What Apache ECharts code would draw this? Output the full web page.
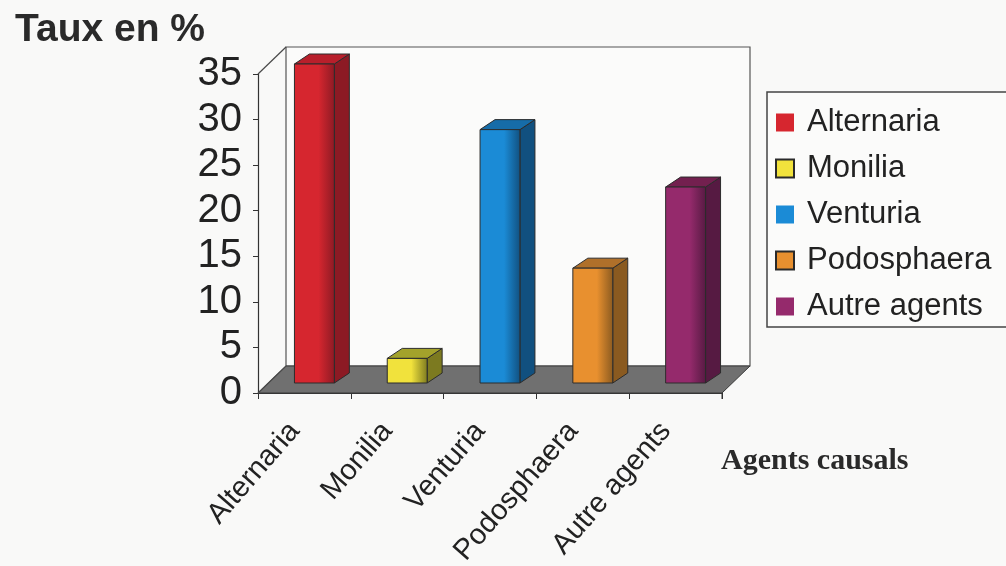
<!DOCTYPE html>
<html>
<head>
<meta charset="utf-8">
<script src="https://cdn.jsdelivr.net/npm/echarts@6/dist/echarts.min.js"></script>
<style>
  html, body { margin: 0; padding: 0; background: #f9f9f8; }
  #main { width: 1006px; height: 566px; }
</style>
</head>
<body>
<div id="main"></div>
<script>
// categories and values
var agents = ['Alternaria', 'Monilia', 'Venturia', 'Podosphaera', 'Autre agents']
var taux = [35, 2.7, 27.8, 12.6, 21.5]
var yTicks = { min: 0, max: 35, interval: 5 }

// colours: front, side, top
var faceColors = ['#d6262f', '#f1e23c', '#1b8bd6', '#e8902f', '#952a6c']
var sideColors = ['#8c1a24', '#7c7a20', '#11507f', '#8a5a20', '#561a42']
var topColors = ['#b81f2b', '#a3a22b', '#166ca8', '#b0702a', '#73204f']

// depth of the "3D" box and of the bars
var WALL_D = [28, -27]
var BAR_OFF = [10, -10]
var BAR_D = [15, -10]

var chart = echarts.init(document.getElementById('main'))

/**
 * walls + floor, drawn from the grid rect
 */
function renderWalls(params, api) {
  var cs = params.coordSys
  var x = cs.x, y = cs.y, w = cs.width, h = cs.height
  var dx = WALL_D[0], dy = WALL_D[1]
  var line = { stroke: '#4a4a4a', lineWidth: 1.2 }
  return {
    type: 'group',
    children: [
      {
        type: 'rect',
        shape: { x: x + dx, y: y + dy, width: w, height: h },
        style: { fill: '#fbfbfa', stroke: '#555', lineWidth: 1.2 }
      },
      {
        type: 'polygon',
        shape: { points: [[x, y + h], [x + w, y + h], [x + w + dx, y + h + dy], [x + dx, y + h + dy]] },
        style: { fill: '#707070', stroke: '#3a3a3a', lineWidth: 1 }
      },
      { type: 'line', shape: { x1: x, y1: y, x2: x + dx, y2: y + dy }, style: line },
      { type: 'line', shape: { x1: x, y1: y + h, x2: x + dx, y2: y + h + dy }, style: line },
      // closing tick at the right end of the category axis
      { type: 'line', shape: { x1: x + w, y1: y + h, x2: x + w, y2: y + h + 6 }, style: { stroke: '#333', lineWidth: 1 } }
    ]
  }
}

/**
 * one 3d column: front face, right side, top
 */
function renderBar(params, api) {
  var idx = api.value(0)
  var val = api.value(1)
  var base = api.coord([idx, 0])
  var top = api.coord([idx, val])
  var bw = api.size([1, 0])[0] * 0.43
  var x0 = base[0] + BAR_OFF[0] - bw / 2
  var x1 = x0 + bw
  var yb = base[1] + BAR_OFF[1]
  var yt = top[1] + BAR_OFF[1]
  var dx = BAR_D[0], dy = BAR_D[1]
  var edge = { stroke: '#2c2c2c', lineWidth: 1 }
  return {
    type: 'group',
    children: [
      {
        type: 'polygon',
        shape: { points: [[x1, yt], [x1 + dx, yt + dy], [x1 + dx, yb + dy], [x1, yb]] },
        style: Object.assign({ fill: sideColors[idx] }, edge)
      },
      {
        type: 'polygon',
        shape: { points: [[x0, yt], [x1, yt], [x1 + dx, yt + dy], [x0 + dx, yt + dy]] },
        style: Object.assign({ fill: topColors[idx] }, edge)
      },
      {
        type: 'rect',
        shape: { x: x0, y: yt, width: bw, height: yb - yt },
        style: Object.assign({
          fill: new echarts.graphic.LinearGradient(0, 0, 1, 0, [
            { offset: 0, color: faceColors[idx] },
            { offset: 0.6, color: faceColors[idx] },
            { offset: 1, color: sideColors[idx] }
          ])
        }, edge)
      }
    ]
  }
}

var series = [{
  name: 'walls',
  type: 'custom',
  renderItem: renderWalls,
  data: [[0, 0]],
  silent: true,
  z: 1
}]
agents.forEach(function (name, i) {
  series.push({
    name: name,
    type: 'custom',
    renderItem: renderBar,
    itemStyle: { color: faceColors[i] },
    data: [[i, taux[i]]],
    z: 3
  })
})

var legendBorder = [false, true, false, true, false]

var option = {
  backgroundColor: '#f9f9f8',
  animation: false,
  textStyle: { fontFamily: 'Liberation Sans, Arial, sans-serif' },
  title: {
    text: 'Agents causals',
    left: 716,
    top: 441,
    textStyle: {
      fontFamily: 'Liberation Serif, Times New Roman, serif',
      fontWeight: 'bold',
      fontSize: 30,
      color: '#2a2a2a'
    }
  },
  grid: { left: 258, right: 284, top: 74, bottom: 173, outerBoundsMode: 'none' },
  legend: {
    orient: 'vertical',
    left: 767,
    top: 92,
    padding: [15, 30, 5, 8],
    itemGap: 15,
    itemWidth: 18,
    itemHeight: 18,
    icon: 'rect',
    borderColor: '#444',
    borderWidth: 1.5,
    backgroundColor: '#fbfbfa',
    textStyle: { fontSize: 31, color: '#222', lineHeight: 30, padding: [0, 0, 0, 8] },
    data: agents.map(function (n, i) {
      return {
        name: n,
        itemStyle: legendBorder[i]
          ? { color: faceColors[i], borderColor: '#2a2a2a', borderWidth: 2 }
          : { color: faceColors[i], borderWidth: 0 }
      }
    })
  },
  xAxis: {
    type: 'category',
    data: agents,
    axisLine: { lineStyle: { color: '#333', width: 1.2 } },
    axisTick: { show: true, length: 6, lineStyle: { color: '#333' } },
    axisLabel: { rotate: 49, fontSize: 29, margin: 22, color: '#222', interval: 0, padding: [0, 15, 0, 0] }
  },
  yAxis: {
    type: 'value',
    min: yTicks.min,
    max: yTicks.max,
    interval: yTicks.interval,
    name: 'Taux en %',
    nameLocation: 'end',
    nameGap: 24,
    nameTextStyle: {
      fontSize: 39,
      fontWeight: 'bold',
      color: '#2a2a2a',
      align: 'right',
      padding: [0, 53, 0, 0]
    },
    axisLine: { show: true, lineStyle: { color: '#333', width: 1.2 } },
    axisTick: { show: true, length: 5, lineStyle: { color: '#333' } },
    splitLine: { show: false },
    axisLabel: { fontSize: 40, margin: 16, color: '#222' }
  },
  series: series
}

chart.setOption(option)
</script>
</body>
</html>
